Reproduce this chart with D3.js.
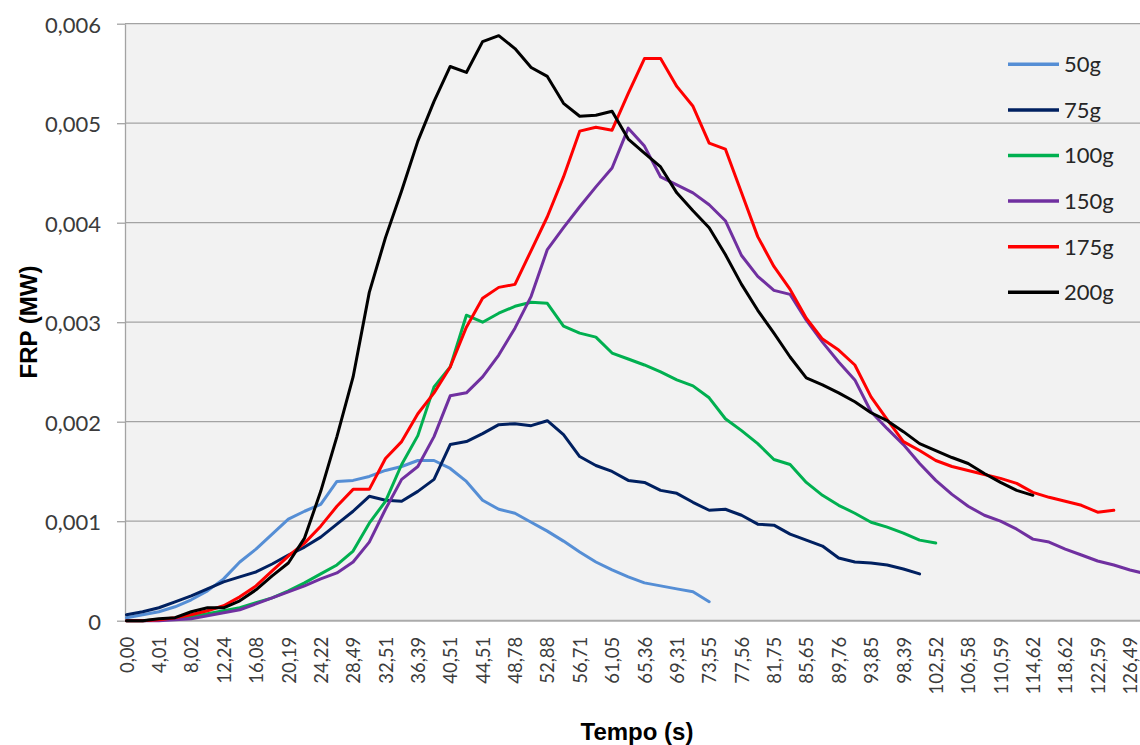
<!DOCTYPE html>
<html>
<head>
<meta charset="utf-8">
<script src="https://cdn.jsdelivr.net/npm/d3@7"></script>
<style>
  body { margin: 0; background: #ffffff; }
  svg { display: block; }
</style>
</head>
<body>
<div id="chart"></div>
<script>
// Category labels shown on the x axis (time, s)
var tickLabels = ["0,00", "4,01", "8,02", "12,24", "16,08", "20,19", "24,22", "28,49", "32,51", "36,39",
    "40,51", "44,51", "48,78", "52,88", "56,71", "61,05", "65,36", "69,31", "73,55", "77,56",
    "81,75", "85,65", "89,76", "93,85", "98,39", "102,52", "106,58", "110,59", "114,62", "118,62",
    "122,59", "126,49"];

// values read every half label interval, starting at 0,00
var sampleStep = 0.5;

var yTicks = [0, 0.001, 0.002, 0.003, 0.004, 0.005, 0.006];

var seriesNames = ["50g", "75g", "100g", "150g", "175g", "200g"];

// FRP (MW)
var frp50 = [0.00003, 0.00006, 0.00009, 0.00014, 0.00021, 0.00030, 0.00042, 0.00059, 0.00072, 0.00087,
    0.00102, 0.00110, 0.00117, 0.00140, 0.00141, 0.00145, 0.00151, 0.00155, 0.00161, 0.00161,
    0.00153, 0.00140, 0.00121, 0.00112, 0.00108, 0.00099, 0.00090, 0.00080, 0.00069, 0.00059,
    0.00051, 0.00044, 0.00038, 0.00035, 0.00032, 0.00029, 0.00019];

var frp75 = [0.00006, 0.00009, 0.00013, 0.00019, 0.00025, 0.00032, 0.00039, 0.00044, 0.00049, 0.00057,
    0.00066, 0.00074, 0.00084, 0.00097, 0.00110, 0.00125, 0.00121, 0.00120, 0.00130, 0.00142,
    0.00177, 0.00180, 0.00188, 0.00197, 0.00198, 0.00196, 0.00201, 0.00187, 0.00165, 0.00156,
    0.00150, 0.00141, 0.00139, 0.00131, 0.00128, 0.00119, 0.00111, 0.00112, 0.00106, 0.00097,
    0.00096, 0.00087, 0.00081, 0.00075, 0.00063, 0.00059, 0.00058, 0.00056, 0.00052, 0.00047];

var frp100 = [0.00000, 0.00000, 0.00001, 0.00002, 0.00004, 0.00007, 0.00010, 0.00013, 0.00018, 0.00023,
    0.00030, 0.00038, 0.00047, 0.00056, 0.00070, 0.00098, 0.00120, 0.00157, 0.00186, 0.00235,
    0.00255, 0.00307, 0.00300, 0.00309, 0.00316, 0.00320, 0.00319, 0.00296, 0.00289, 0.00285,
    0.00269, 0.00263, 0.00257, 0.00250, 0.00242, 0.00236, 0.00224, 0.00203, 0.00191, 0.00178,
    0.00162, 0.00157, 0.00139, 0.00126, 0.00116, 0.00108, 0.00099, 0.00094, 0.00088, 0.00081,
    0.00078];

var frp150 = [0.00000, 0.00000, 0.00000, 0.00001, 0.00002, 0.00005, 0.00008, 0.00011, 0.00017, 0.00023,
    0.00029, 0.00035, 0.00042, 0.00048, 0.00059, 0.00079, 0.00112, 0.00142, 0.00155, 0.00185,
    0.00226, 0.00229, 0.00245, 0.00267, 0.00294, 0.00326, 0.00373, 0.00395, 0.00416, 0.00436,
    0.00455, 0.00495, 0.00477, 0.00446, 0.00438, 0.00430, 0.00418, 0.00402, 0.00367, 0.00346,
    0.00332, 0.00328, 0.00302, 0.00280, 0.00260, 0.00242, 0.00210, 0.00193, 0.00177, 0.00158,
    0.00141, 0.00127, 0.00115, 0.00106, 0.00100, 0.00092, 0.00082, 0.00079, 0.00072, 0.00066,
    0.00060, 0.00056, 0.00051, 0.00047];

var frp175 = [0.00000, 0.00000, 0.00001, 0.00003, 0.00006, 0.00010, 0.00015, 0.00024, 0.00035, 0.00050,
    0.00065, 0.00078, 0.00095, 0.00115, 0.00132, 0.00132, 0.00163, 0.00180, 0.00208, 0.00229,
    0.00255, 0.00295, 0.00324, 0.00335, 0.00338, 0.00372, 0.00406, 0.00446, 0.00492, 0.00496,
    0.00493, 0.00530, 0.00565, 0.00565, 0.00537, 0.00517, 0.00480, 0.00474, 0.00430, 0.00386,
    0.00356, 0.00333, 0.00304, 0.00283, 0.00272, 0.00257, 0.00225, 0.00202, 0.00180, 0.00171,
    0.00161, 0.00155, 0.00151, 0.00147, 0.00143, 0.00138, 0.00129, 0.00124, 0.00120, 0.00116,
    0.00109, 0.00111];

var frp200 = [0.00000, 0.00000, 0.00002, 0.00003, 0.00009, 0.00013, 0.00013, 0.00020, 0.00031, 0.00045,
    0.00058, 0.00083, 0.00130, 0.00185, 0.00245, 0.00330, 0.00385, 0.00432, 0.00482, 0.00522,
    0.00557, 0.00551, 0.00582, 0.00588, 0.00575, 0.00556, 0.00547, 0.00520, 0.00507, 0.00508,
    0.00512, 0.00484, 0.00470, 0.00456, 0.00430, 0.00412, 0.00395, 0.00368, 0.00338, 0.00312,
    0.00289, 0.00265, 0.00244, 0.00237, 0.00229, 0.00220, 0.00209, 0.00201, 0.00190, 0.00178,
    0.00171, 0.00164, 0.00158, 0.00148, 0.00139, 0.00131, 0.00126];

var seriesValues = [frp50, frp75, frp100, frp150, frp175, frp200];
var seriesColors = ["#558ed5", "#002060", "#00b050", "#7030a0", "#ff0000", "#000000"];

var svgWidth = 1140;
var svgHeight = 745;

var margin = { top: 23.7, left: 125 };
var width = 1025;
var height = 597;

var svg = d3.select("#chart")
    .append("svg")
    .attr("width", svgWidth)
    .attr("height", svgHeight);

var chartGroup = svg.append("g")
    .attr("transform", `translate(${margin.left}, ${margin.top})`);

// Scales
var xScale = d3.scaleLinear()
    .domain([0, tickLabels.length - 1])
    .range([1.5, 1005]);

var yScale = d3.scaleLinear()
    .domain([0, 0.006])
    .range([height, 0]);

// plot area
chartGroup.append("rect")
    .attr("width", width)
    .attr("height", height)
    .attr("fill", "#f2f2f2");

// gridlines
chartGroup.append("g")
    .selectAll("line")
    .data(yTicks.slice(1))
    .enter()
    .append("line")
    .attr("x1", 0)
    .attr("x2", width)
    .attr("y1", d => yScale(d))
    .attr("y2", d => yScale(d))
    .attr("stroke", "#a3a3a3")
    .attr("stroke-width", 1.3);

// y axis
var leftAxis = d3.axisLeft(yScale)
    .tickValues(yTicks)
    .tickFormat(d => d === 0 ? "0" : d3.format(".3f")(d).replace(".", ","))
    .tickSize(8)
    .tickSizeOuter(0)
    .tickPadding(16);

var yAxisG = chartGroup.append("g").call(leftAxis);
yAxisG.select(".domain").attr("stroke", "#a3a3a3").attr("stroke-width", 1.3);
yAxisG.selectAll(".tick line").attr("stroke", "#a3a3a3").attr("stroke-width", 1.3);
yAxisG.selectAll(".tick text")
    .attr("dy", "0.38em")
    .attr("fill", "#3b3b3b")
    .style("font-family", "Lato, 'Open Sans', sans-serif")
    .style("font-size", "22px");

// x axis
var bottomAxis = d3.axisBottom(xScale)
    .tickValues(d3.range(tickLabels.length))
    .tickFormat(i => tickLabels[i])
    .tickSize(0);

var xAxisG = chartGroup.append("g")
    .attr("transform", `translate(0, ${height})`)
    .call(bottomAxis);
xAxisG.select(".domain").remove();
xAxisG.selectAll(".tick text")
    .attr("transform", "rotate(-90)")
    .attr("x", -16)
    .attr("y", 0)
    .attr("dy", "0.36em")
    .style("text-anchor", "end")
    .attr("fill", "#3b3b3b")
    .style("font-family", "Lato, 'Open Sans', sans-serif")
    .style("font-size", "18.5px");

chartGroup.append("line")
    .attr("x1", 0)
    .attr("x2", width)
    .attr("y1", height)
    .attr("y2", height)
    .attr("stroke", "#ababab")
    .attr("stroke-width", 2);

// series lines
var line = d3.line()
    .x((d, i) => xScale(i * sampleStep))
    .y(d => yScale(d));

chartGroup.append("g")
    .selectAll("path")
    .data(seriesValues)
    .enter()
    .append("path")
    .attr("d", d => line(d))
    .attr("fill", "none")
    .attr("stroke", (d, i) => seriesColors[i])
    .attr("stroke-width", 3)
    .attr("stroke-linejoin", "round")
    .attr("stroke-linecap", "round");

// legend
var legend = svg.append("g")
    .selectAll("g")
    .data(seriesNames)
    .enter()
    .append("g")
    .attr("transform", (d, i) => `translate(1008, ${64.3 + i * 45.6})`);

legend.append("line")
    .attr("x1", 0)
    .attr("x2", 51)
    .attr("stroke", (d, i) => seriesColors[i])
    .attr("stroke-width", 3.5);

legend.append("text")
    .attr("x", 56)
    .attr("dy", "0.36em")
    .attr("fill", "#262626")
    .style("font-family", "Lato, 'Open Sans', sans-serif")
    .style("font-size", "22px")
    .text(d => d);

// axis titles
svg.append("text")
    .attr("transform", "translate(37, 322) rotate(-90)")
    .attr("text-anchor", "middle")
    .style("font-family", "'Liberation Sans', Arial, sans-serif")
    .style("font-weight", "bold")
    .style("font-size", "24px")
    .text("FRP (MW)");

svg.append("text")
    .attr("x", 637)
    .attr("y", 740)
    .attr("text-anchor", "middle")
    .style("font-family", "'Liberation Sans', Arial, sans-serif")
    .style("font-weight", "bold")
    .style("font-size", "24px")
    .text("Tempo (s)");
</script>
</body>
</html>
